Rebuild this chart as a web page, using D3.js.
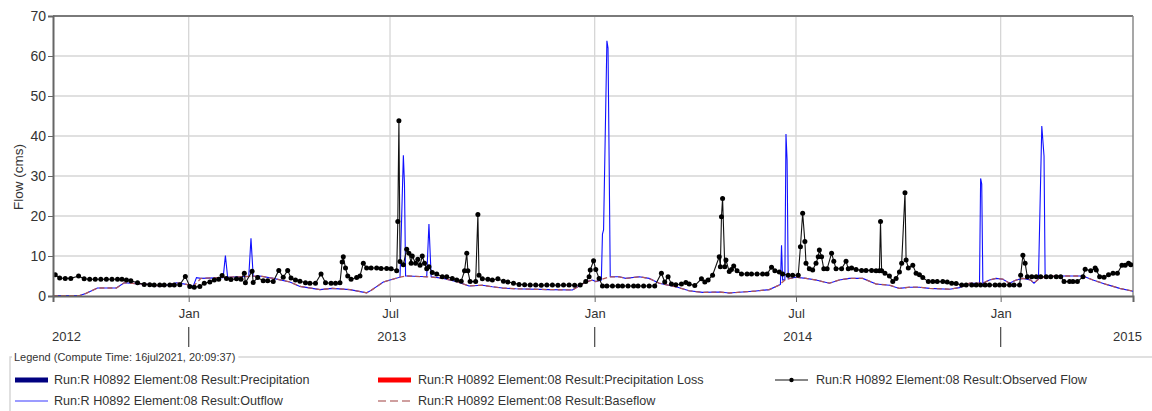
<!DOCTYPE html>
<html><head><meta charset="utf-8">
<script src="https://cdn.jsdelivr.net/npm/d3@7"></script>
<style>
html,body{margin:0;padding:0;background:#fff;}
svg{display:block;font-family:"Liberation Sans",Arial,sans-serif;}
</style></head><body>
<svg id="chart" width="1152" height="411"></svg>
<script>
const observedFlow = [
["2012-09-03",5.3],["2012-09-07",4.5],["2012-09-12",4.4],["2012-09-17",4.4],["2012-09-24",5.0],["2012-09-29",4.3],["2012-10-04",4.2],["2012-10-09",4.2],["2012-10-14",4.2],["2012-10-19",4.2],["2012-10-24",4.2],["2012-10-29",4.2],["2012-11-02",4.2],["2012-11-06",4.0],["2012-11-10",3.8],["2012-11-16",3.3],["2012-11-22",2.9],["2012-11-27",2.8],["2012-12-01",2.75],["2012-12-06",2.75],["2012-12-10",2.75],["2012-12-15",2.75],["2012-12-19",2.75],["2012-12-24",2.8],["2012-12-29",4.9],
["2013-01-02",2.4],["2013-01-06",2.2],["2013-01-11",2.4],["2013-01-15",3.2],["2013-01-20",3.5],["2013-01-24",4.0],["2013-01-28",4.2],["2013-01-31",5.1],["2013-02-04",4.4],["2013-02-08",4.1],["2013-02-13",4.3],["2013-02-17",4.2],["2013-02-20",5.7],["2013-02-21",3.3],["2013-02-27",6.2],["2013-02-28",3.4],["2013-03-04",4.6],["2013-03-09",3.8],["2013-03-13",3.8],["2013-03-18",3.6],["2013-03-23",6.4],["2013-03-27",4.7],["2013-03-31",6.4],["2013-04-03",4.5],["2013-04-07",4.0],["2013-04-11",3.7],["2013-04-16",3.3],["2013-04-20",3.2],["2013-04-25",3.2],["2013-04-30",5.5],["2013-05-04",3.3],["2013-05-09",3.2],["2013-05-13",3.2],["2013-05-17",3.3],["2013-05-19",8.5],["2013-05-20",9.8],["2013-05-22",7.0],["2013-05-24",5.0],["2013-05-27",4.2],["2013-06-01",4.6],["2013-06-04",5.0],["2013-06-07",8.2],["2013-06-10",7.0],["2013-06-14",7.0],["2013-06-19",7.0],["2013-06-23",6.9],["2013-06-28",6.9],["2013-07-02",6.8],["2013-07-07",6.3],["2013-07-08",18.6],["2013-07-09",43.8],["2013-07-10",8.6],["2013-07-13",7.8],["2013-07-16",11.7],["2013-07-18",10.7],["2013-07-20",8.2],["2013-07-21",10.0],["2013-07-24",8.2],["2013-07-26",9.2],["2013-07-28",7.7],["2013-07-30",10.0],["2013-08-01",8.2],["2013-08-03",6.8],["2013-08-05",7.3],["2013-08-08",5.9],["2013-08-12",5.5],["2013-08-17",4.8],["2013-08-21",4.8],["2013-08-26",4.4],["2013-08-30",4.0],["2013-09-03",3.7],["2013-09-06",6.3],["2013-09-08",10.7],["2013-09-09",6.3],["2013-09-11",3.6],["2013-09-16",3.6],["2013-09-18",20.4],["2013-09-19",5.2],["2013-09-22",4.3],["2013-09-27",4.2],["2013-10-01",4.0],["2013-10-06",4.3],["2013-10-11",3.7],["2013-10-15",3.5],["2013-10-20",3.2],["2013-10-25",2.9],["2013-10-30",2.8],["2013-11-04",2.75],["2013-11-09",2.75],["2013-11-14",2.7],["2013-11-19",2.75],["2013-11-24",2.75],["2013-11-29",2.7],["2013-12-04",2.75],["2013-12-09",2.75],["2013-12-14",2.7],["2013-12-19",2.75],["2013-12-24",3.6],["2013-12-27",4.8],["2013-12-28",6.5],["2013-12-31",8.8],
["2014-01-02",6.6],["2014-01-05",4.4],["2014-01-08",2.5],["2014-01-12",2.5],["2014-01-17",2.5],["2014-01-22",2.5],["2014-01-26",2.5],["2014-01-31",2.5],["2014-02-05",2.5],["2014-02-09",2.5],["2014-02-14",2.5],["2014-02-19",2.5],["2014-02-24",2.5],["2014-03-02",5.7],["2014-03-05",3.5],["2014-03-08",4.8],["2014-03-11",3.0],["2014-03-15",2.8],["2014-03-20",3.0],["2014-03-24",3.4],["2014-03-27",3.0],["2014-04-01",2.6],["2014-04-07",4.3],["2014-04-10",3.5],["2014-04-13",4.0],["2014-04-17",5.2],["2014-04-23",9.8],["2014-04-24",7.3],["2014-04-25",19.8],["2014-04-26",24.4],["2014-04-28",7.3],["2014-04-29",9.0],["2014-05-02",6.1],["2014-05-04",6.6],["2014-05-06",7.5],["2014-05-09",6.3],["2014-05-13",5.5],["2014-05-18",5.5],["2014-05-22",5.5],["2014-05-27",5.5],["2014-06-01",5.5],["2014-06-05",5.5],["2014-06-09",7.2],["2014-06-12",6.3],["2014-06-16",6.0],["2014-06-19",5.5],["2014-06-24",5.2],["2014-06-28",5.2],["2014-07-03",5.2],["2014-07-05",12.3],["2014-07-07",20.7],["2014-07-09",13.6],["2014-07-10",8.2],["2014-07-13",6.8],["2014-07-16",6.5],["2014-07-19",8.2],["2014-07-21",9.8],["2014-07-22",11.5],["2014-07-24",9.8],["2014-07-26",6.8],["2014-07-29",6.8],["2014-08-02",10.7],["2014-08-04",8.7],["2014-08-06",6.8],["2014-08-11",6.8],["2014-08-15",8.7],["2014-08-17",6.8],["2014-08-20",7.0],["2014-08-24",6.6],["2014-08-29",6.4],["2014-09-02",6.4],["2014-09-07",6.4],["2014-09-11",6.3],["2014-09-14",6.3],["2014-09-15",18.6],["2014-09-16",6.3],["2014-09-19",5.7],["2014-09-23",5.0],["2014-09-26",3.6],["2014-09-29",4.4],["2014-10-02",6.0],["2014-10-04",8.2],["2014-10-07",25.8],["2014-10-08",9.0],["2014-10-10",7.0],["2014-10-14",7.7],["2014-10-17",5.7],["2014-10-20",5.3],["2014-10-23",4.6],["2014-10-28",3.6],["2014-11-01",3.6],["2014-11-05",3.6],["2014-11-10",3.6],["2014-11-14",3.5],["2014-11-18",3.2],["2014-11-22",3.1],["2014-11-27",2.75],["2014-12-01",2.75],["2014-12-06",2.75],["2014-12-10",2.75],["2014-12-14",2.75],["2014-12-18",2.75],["2014-12-22",2.75],["2014-12-27",2.75],["2014-12-31",2.75],
["2015-01-04",2.75],["2015-01-09",2.75],["2015-01-13",2.75],["2015-01-18",2.75],["2015-01-19",5.2],["2015-01-21",10.2],["2015-01-23",8.2],["2015-01-25",4.8],["2015-01-29",4.8],["2015-02-02",4.8],["2015-02-06",4.8],["2015-02-11",4.8],["2015-02-15",4.8],["2015-02-20",4.8],["2015-02-24",4.8],["2015-02-27",3.6],["2015-03-04",3.6],["2015-03-07",3.6],["2015-03-11",3.6],["2015-03-16",4.8],["2015-03-18",6.7],["2015-03-23",6.3],["2015-03-27",7.0],["2015-03-28",6.5],["2015-03-31",4.8],["2015-04-04",4.7],["2015-04-08",5.3],["2015-04-12",5.7],["2015-04-16",5.7],["2015-04-20",7.7],["2015-04-23",7.7],["2015-04-26",8.2],["2015-04-28",7.8]
];

const baseflow = [
["2012-09-01",0.1],["2012-09-25",0.1],["2012-10-01",0.7],["2012-10-11",2.0],["2012-10-28",2.0],["2012-11-04",3.3],["2012-11-15",3.1],["2012-11-27",2.9],["2012-12-08",2.4],["2012-12-21",3.3],["2012-12-30",2.9],["2013-01-05",2.4],["2013-01-12",4.4],["2013-02-04",4.7],["2013-03-06",5.0],["2013-03-18",4.4],["2013-04-02",3.5],["2013-04-11",2.4],["2013-04-29",1.6],["2013-05-10",1.9],["2013-05-26",1.6],["2013-06-10",0.8],["2013-06-14",1.4],["2013-06-25",3.5],["2013-07-01",4.0],["2013-07-10",4.7],["2013-07-16",5.0],["2013-08-03",4.8],["2013-08-18",4.4],["2013-08-30",3.6],["2013-09-10",2.5],["2013-09-22",2.7],["2013-10-01",2.3],["2013-10-10",2.0],["2013-10-22",1.8],["2013-11-21",1.6],["2013-12-12",1.5],["2013-12-24",3.5],["2013-12-30",4.0],["2014-01-02",3.6],["2014-01-14",4.8],["2014-01-23",4.8],["2014-01-29",4.4],["2014-02-10",4.8],["2014-02-19",4.4],["2014-02-28",3.2],["2014-03-15",2.3],["2014-03-27",1.3],["2014-04-08",0.9],["2014-04-23",1.0],["2014-05-02",0.75],["2014-05-14",1.0],["2014-05-26",1.25],["2014-06-07",1.6],["2014-06-16",2.75],["2014-06-22",4.2],["2014-07-01",4.7],["2014-07-10",4.4],["2014-07-19",4.0],["2014-07-31",3.2],["2014-08-09",4.0],["2014-08-18",4.4],["2014-08-30",4.4],["2014-09-11",3.0],["2014-09-23",2.7],["2014-10-02",1.9],["2014-10-11",2.2],["2014-10-20",2.2],["2014-10-29",1.9],["2014-11-16",1.7],["2014-11-25",2.1],["2014-12-04",3.2],["2014-12-16",3.2],["2014-12-22",4.0],["2014-12-28",4.4],["2015-01-03",4.2],["2015-01-09",3.2],["2015-01-15",4.0],["2015-01-21",4.4],["2015-01-28",4.0],["2015-01-31",3.2],["2015-02-05",4.4],["2015-02-14",5.0],["2015-03-16",5.0],["2015-03-25",4.0],["2015-04-06",2.9],["2015-04-18",1.9],["2015-04-30",1.2]
];

const outflow = [
["2012-09-01",0.1],["2012-09-25",0.1],["2012-10-01",0.7],["2012-10-11",2.0],["2012-10-28",2.0],["2012-11-04",3.3],["2012-11-15",3.1],["2012-11-27",2.9],["2012-12-08",2.4],["2012-12-21",3.3],["2012-12-30",2.9],["2013-01-05",2.4],["2013-01-08",4.6],["2013-01-12",4.4],["2013-02-01",4.6],["2013-02-03",10.1],["2013-02-05",4.7],["2013-02-24",4.9],["2013-02-26",14.4],["2013-02-28",4.9],["2013-03-06",5.0],["2013-03-18",4.4],["2013-04-02",3.5],["2013-04-11",2.4],["2013-04-29",1.6],["2013-05-10",1.9],["2013-05-26",1.6],["2013-06-10",0.8],["2013-06-14",1.4],["2013-06-25",3.5],["2013-07-01",4.0],["2013-07-10",4.7],["2013-07-13",35.2],["2013-07-14",28.0],["2013-07-15",5.0],["2013-07-16",5.0],["2013-08-03",4.8],["2013-08-05",18.0],["2013-08-07",4.8],["2013-08-18",4.4],["2013-08-30",3.6],["2013-09-10",2.5],["2013-09-22",2.7],["2013-10-01",2.3],["2013-10-10",2.0],["2013-10-22",1.8],["2013-11-21",1.6],["2013-12-12",1.5],["2013-12-24",3.5],["2013-12-30",4.0],["2014-01-02",3.6],["2014-01-07",4.0],["2014-01-08",15.5],["2014-01-09",16.5],["2014-01-12",63.8],["2014-01-13",62.0],["2014-01-14",34.0],["2014-01-15",4.8],["2014-01-23",4.8],["2014-01-29",4.4],["2014-02-10",4.8],["2014-02-19",4.4],["2014-02-28",3.2],["2014-03-15",2.3],["2014-03-27",1.3],["2014-04-08",0.9],["2014-04-23",1.0],["2014-05-02",0.75],["2014-05-14",1.0],["2014-05-26",1.25],["2014-06-07",1.6],["2014-06-16",2.75],["2014-06-17",2.9],["2014-06-18",12.7],["2014-06-19",4.0],["2014-06-21",4.1],["2014-06-22",40.5],["2014-06-23",34.0],["2014-06-24",4.3],["2014-07-01",4.7],["2014-07-10",4.4],["2014-07-19",4.0],["2014-07-31",3.2],["2014-08-09",4.0],["2014-08-18",4.4],["2014-08-30",4.4],["2014-09-11",3.0],["2014-09-23",2.7],["2014-10-02",1.9],["2014-10-11",2.2],["2014-10-20",2.2],["2014-10-29",1.9],["2014-11-16",1.7],["2014-11-25",2.1],["2014-12-04",3.2],["2014-12-13",3.2],["2014-12-14",29.4],["2014-12-15",28.0],["2014-12-16",3.2],["2014-12-22",4.0],["2014-12-28",4.4],["2015-01-03",4.2],["2015-01-09",3.2],["2015-01-15",4.0],["2015-01-21",4.4],["2015-01-28",4.0],["2015-01-31",3.2],["2015-02-04",4.3],["2015-02-07",42.5],["2015-02-09",35.0],["2015-02-10",4.6],["2015-02-14",5.0],["2015-03-16",5.0],["2015-03-25",4.0],["2015-04-06",2.9],["2015-04-18",1.9],["2015-04-30",1.2]
];

const yTicks = [0,10,20,30,40,50,60,70];
const monthTicks = ["2013-01-01","2013-07-01","2014-01-01","2014-07-01","2015-01-01"];
const monthTickLabels = ["Jan","Jul","Jan","Jul","Jan"];
const yearTicks = ["2013-01-01","2014-01-01","2015-01-01"];
const yearLabels = ["2012","2013","2014","2015"];
const yLabel = "Flow (cms)";
const legendTitle = "Legend (Compute Time: 16jul2021, 20:09:37)";
const legendLabels = [
 "Run:R H0892 Element:08 Result:Precipitation",
 "Run:R H0892 Element:08 Result:Precipitation Loss",
 "Run:R H0892 Element:08 Result:Observed Flow",
 "Run:R H0892 Element:08 Result:Outflow",
 "Run:R H0892 Element:08 Result:Baseflow"
];
const domainStart = "2012-09-01", domainEnd = "2015-04-30";

const parse = d3.utcParse("%Y-%m-%d");
const svg = d3.select("#chart");
const P = {l:53, r:1133, t:16, b:296};
const x = d3.scaleUtc().domain([parse(domainStart), parse(domainEnd)]).range([P.l, P.r]);
const y = d3.scaleLinear().domain([0,70]).range([P.b, P.t]);

// grid
const grid = svg.append("g");
grid.selectAll("line.h").data(yTicks.filter(v => v>0 && v<70)).join("line")
  .attr("x1",P.l).attr("x2",P.r).attr("y1",d=>y(d)).attr("y2",d=>y(d))
  .attr("stroke","#d6d6d6").attr("stroke-width",1.3);
grid.selectAll("line.v").data(monthTicks).join("line")
  .attr("x1",d=>x(parse(d))).attr("x2",d=>x(parse(d))).attr("y1",P.t).attr("y2",P.b)
  .attr("stroke","#d6d6d6").attr("stroke-width",1.3);

// frame top/right
svg.append("line").attr("x1",P.l).attr("x2",P.r).attr("y1",P.t).attr("y2",P.t).attr("stroke","#7a7a7a").attr("stroke-width",2);
svg.append("line").attr("x1",P.r).attr("x2",P.r).attr("y1",P.t).attr("y2",P.b).attr("stroke","#8a8a8a").attr("stroke-width",1.5);

// clip
svg.append("clipPath").attr("id","clip").append("rect")
  .attr("x",P.l).attr("y",P.t-2).attr("width",P.r-P.l).attr("height",P.b-P.t+2);
const plot = svg.append("g").attr("clip-path","url(#clip)");

const line = d3.line().x(d=>x(parse(d[0]))).y(d=>y(d[1]));
plot.append("path").datum(outflow).attr("d",line).attr("fill","none").attr("stroke","#1010ff").attr("stroke-width",1.1);
plot.append("path").datum(baseflow).attr("d",line).attr("fill","none").attr("stroke","#b05858").attr("stroke-width",1.3).attr("stroke-dasharray","5,3");
plot.append("path").datum(observedFlow).attr("d",line).attr("fill","none").attr("stroke","#111").attr("stroke-width",1.1);
plot.selectAll("circle.obs").data(observedFlow).join("circle")
  .attr("cx",d=>x(parse(d[0]))).attr("cy",d=>y(d[1])).attr("r",2.5).attr("fill","#000");

// axes
const yAxis = svg.append("g").attr("transform",`translate(${P.l},0)`)
  .call(d3.axisLeft(y).tickValues(yTicks).tickSize(5).tickPadding(2));
yAxis.select(".domain").attr("stroke","#666").attr("stroke-width",2);
yAxis.selectAll(".tick line").attr("stroke","#666");
yAxis.selectAll("text").attr("font-size",14).attr("fill","#333").attr("font-family","Liberation Sans, Arial, sans-serif");

const xAxis = svg.append("g").attr("transform",`translate(0,${P.b})`)
  .call(d3.axisBottom(x).tickValues(monthTicks.map(parse)).tickFormat((d,i)=>monthTickLabels[i]).tickSize(6).tickPadding(7));
xAxis.select(".domain").attr("stroke","#666").attr("stroke-width",2);
xAxis.selectAll(".tick line").attr("stroke","#666");
xAxis.selectAll("text").attr("font-size",13).attr("fill","#333").attr("font-family","Liberation Sans, Arial, sans-serif");

// year separators and labels
svg.selectAll("line.yr").data(yearTicks).join("line")
  .attr("x1",d=>x(parse(d))).attr("x2",d=>x(parse(d))).attr("y1",327).attr("y2",347)
  .attr("stroke","#555").attr("stroke-width",1.3);
const d0 = x.domain()[0], d1 = x.domain()[1];
yearLabels.forEach((lab) => {
  const ys = d3.utcParse("%Y")(lab), ye = d3.utcYear.offset(ys,1);
  let anchor = "middle", px;
  if (ys < d0) { anchor = "start"; px = x(d0) - 1; }
  else if (ye > d1) { anchor = "end"; px = x(d1) + 9; }
  else { px = (x(ys)+x(ye))/2; }
  svg.append("text").attr("x",px).attr("y",341).attr("text-anchor",anchor)
    .attr("font-size",13).attr("fill","#333").text(lab);
});

// y label
svg.append("text").attr("transform","translate(23,177) rotate(-90)").attr("text-anchor","middle")
  .attr("font-size",13.5).attr("fill","#333").text(yLabel);

// legend
const lg = svg.append("g");
const title = lg.append("text").attr("x",14).attr("y",361).attr("font-size",11).attr("fill","#333").text(legendTitle);
const tEnd = 14 + title.node().getComputedTextLength() + 3;
lg.append("path").attr("d",`M10,411 L10,357 L12,357 M${tEnd},357 L1152,357`)
  .attr("fill","none").attr("stroke","#d6d6d6").attr("stroke-width",1.5);

const items = [
  {lab:legendLabels[0], sx:15, tx:54, row:0, type:"thick", color:"#000080"},
  {lab:legendLabels[1], sx:378, tx:418, row:0, type:"thick", color:"#ff0000"},
  {lab:legendLabels[2], sx:775, tx:816, row:0, type:"obs", color:"#111"},
  {lab:legendLabels[3], sx:15, tx:54, row:1, type:"thin", color:"#7a7aff"},
  {lab:legendLabels[4], sx:378, tx:418, row:1, type:"dash", color:"#c08080"}
];
const rowY = [380, 401];
items.forEach(it => {
  const cy = rowY[it.row], w = 33;
  if (it.type === "thick") {
    lg.append("rect").attr("x",it.sx).attr("y",cy-2.5).attr("width",w).attr("height",5).attr("fill",it.color);
  } else if (it.type === "thin") {
    lg.append("line").attr("x1",it.sx).attr("x2",it.sx+w).attr("y1",cy).attr("y2",cy).attr("stroke",it.color).attr("stroke-width",1.6);
  } else if (it.type === "dash") {
    lg.append("line").attr("x1",it.sx).attr("x2",it.sx+w).attr("y1",cy).attr("y2",cy).attr("stroke",it.color).attr("stroke-width",1.6).attr("stroke-dasharray","8,4");
  } else {
    lg.append("line").attr("x1",it.sx).attr("x2",it.sx+w).attr("y1",cy).attr("y2",cy).attr("stroke",it.color).attr("stroke-width",1.2);
    lg.append("circle").attr("cx",it.sx+w/2).attr("cy",cy).attr("r",2.2).attr("fill","#000");
  }
  lg.append("text").attr("x",it.tx).attr("y",cy+4.4).attr("font-size",12.6).attr("fill","#333").text(it.lab);
});
</script>
</body></html>
